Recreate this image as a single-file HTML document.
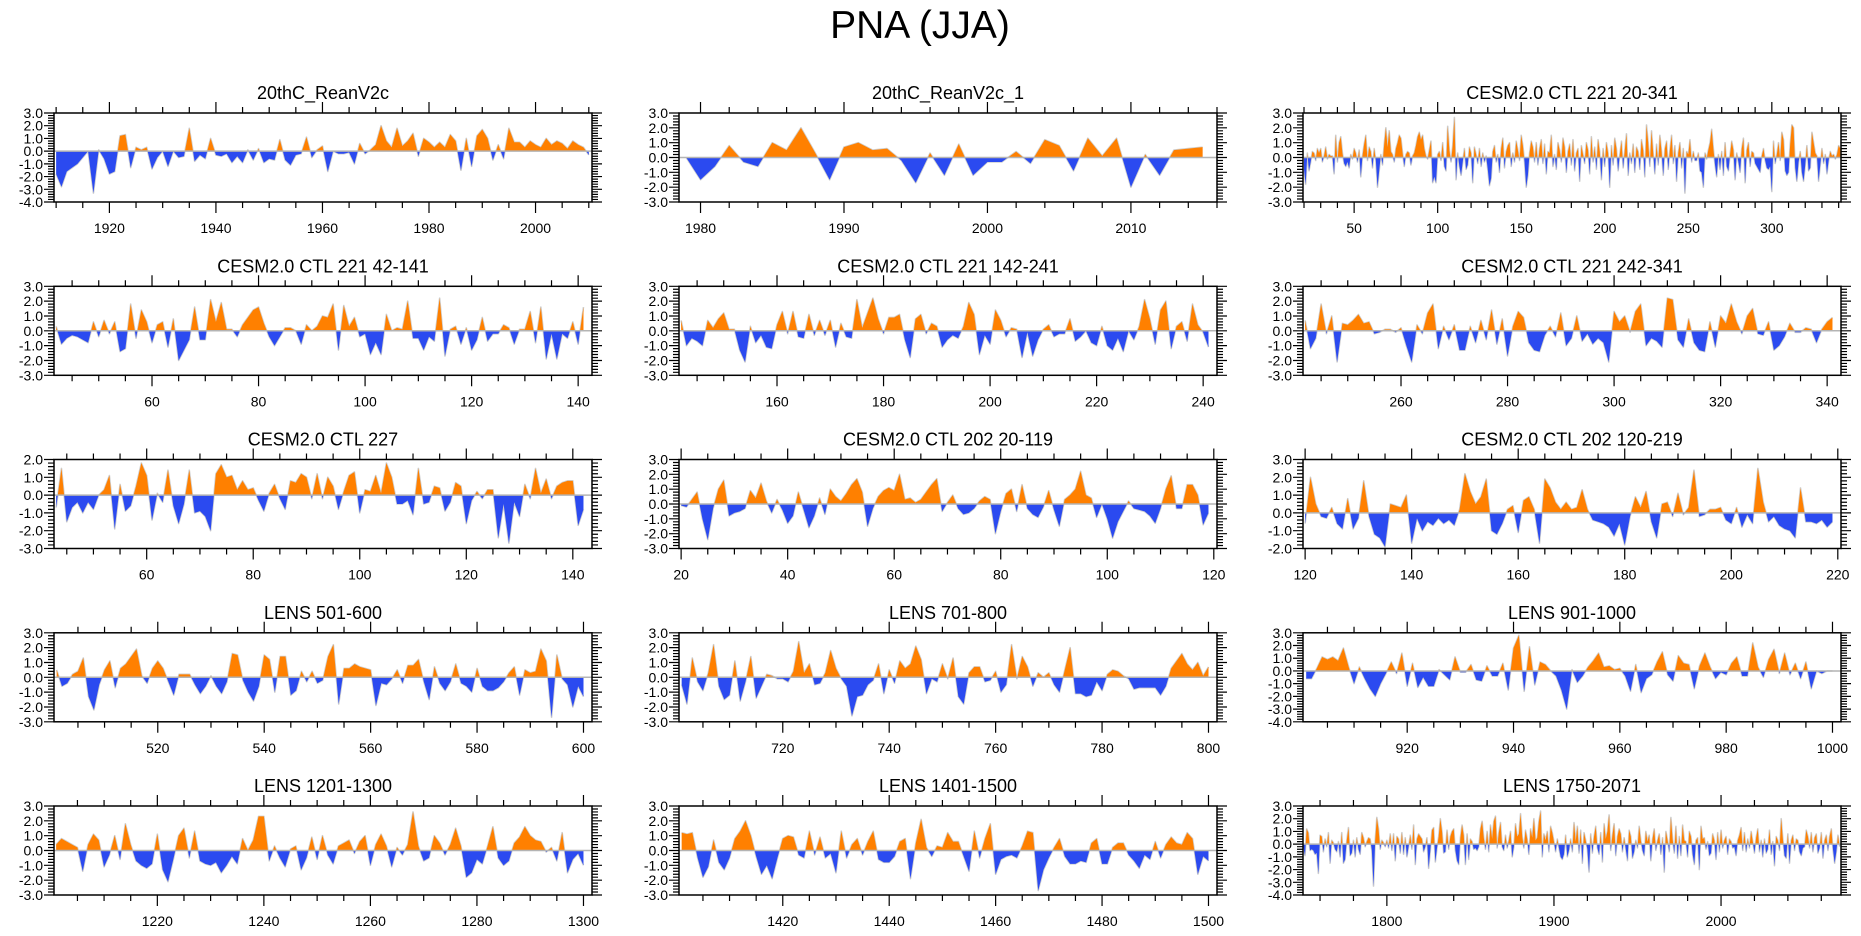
<!DOCTYPE html>
<html><head><meta charset="utf-8"><title>PNA (JJA)</title>
<style>
html,body{margin:0;padding:0;background:#fff;}
svg{display:block;font-family:"Liberation Sans",Arial,sans-serif;}
</style></head>
<body>
<svg id="chart" width="1861" height="936" viewBox="0 0 1861 936" xmlns="http://www.w3.org/2000/svg">
<text x="920" y="38" font-size="39" text-anchor="middle" fill="#000">PNA (JJA)</text>
</svg>
<script>
// ---- data ----
const titles = ["20thC_ReanV2c","20thC_ReanV2c_1","CESM2.0 CTL 221 20-341","CESM2.0 CTL 221 42-141","CESM2.0 CTL 221 142-241","CESM2.0 CTL 221 242-341","CESM2.0 CTL 227","CESM2.0 CTL 202 20-119","CESM2.0 CTL 202 120-219","LENS 501-600","LENS 701-800","LENS 901-1000","LENS 1201-1300","LENS 1401-1500","LENS 1750-2071"];
const startYears = [1910,1979,20,42,142,242,43,20,120,501,701,901,1201,1401,1750];
const xMins = [1909.6,1978.5,19.4,41.6,141.6,241.6,42.6,19.6,119.6,500.5,700.5,900.4,1200.6,1400.5,1749.8];
const xMaxs = [2010.6,2016,341.4,142.6,242.6,342.6,143.6,120.6,220.6,601.6,801.6,1001.6,1301.6,1501.6,2071.8];
const yMins = [-4,-3,-3,-3,-3,-3,-3,-3,-2,-3,-3,-4,-3,-3,-4];
const yMaxs = [3,3,3,3,3,3,2,3,3,3,3,3,3,3,3];
const majorSteps = [20,10,50,20,20,20,20,20,20,20,20,20,20,20,100];
const minorSteps = [5,2,10,5,5,5,5,5,5,5,5,5,5,5,20];

const s1 = [-1.8,-2.8,-1.6,-1.3,-1.0,-0.5,0.0,-3.3,0.1,-0.6,-1.8,-1.6,1.2,1.3,-1.3,0.3,0.1,0.3,-1.4,-0.5,0.0,-1.2,0.0,-0.5,-0.4,1.8,-0.8,-0.3,-0.6,1.0,-0.3,-0.4,-0.2,-0.9,-0.4,-0.9,0.1,-0.7,0.2,-0.9,-0.6,-0.7,0.9,-0.7,-1.1,-0.3,-0.2,1.1,-0.5,0.1,0.4,-1.6,0.0,-0.2,-0.2,-0.1,-1.0,0.6,-0.2,0.1,0.5,2.0,0.8,0.3,1.8,0.4,0.8,1.4,-0.4,1.0,0.7,0.3,0.7,0.3,1.3,0.8,-1.5,1.0,-1.2,1.2,1.7,1.0,-0.7,0.5,-0.6,1.8,0.7,0.7,0.3,0.8,0.5,0.3,1.0,0.5,0.8,0.6,0.2,0.8,0.5,0.3,-0.3];
const s2 = [0.0,-1.5,-0.6,0.8,-0.3,-0.6,1.0,0.5,2.0,0.3,-1.5,0.7,1.0,0.5,0.6,-0.2,-1.7,0.3,-1.2,0.9,-1.2,-0.3,-0.3,0.4,-0.4,1.2,0.8,-0.9,1.3,0.1,1.3,-2.0,0.2,-1.2,0.5,0.6,0.7];
const s3 = [-0.8,-1.8,0.3,-0.9,-0.3,0.4,0.3,-0.2,0.6,0.3, 0.6,-0.3,0.1,0.7,-0.1,0.2,0.1,0.1,-1.1,1.5, -0.3,1.0,1.4,0.3,-0.4,-0.6,-0.3,-0.7,0.2,-0.1, 0.6,0.3,-0.3,0.5,-1.3,0.1,0.9,1.5,-0.2,0.7, 0.4,-0.7,0.6,-0.2,-2.0,-0.9,0.2,-0.5,0.9,2.0, 0.7,1.8,0.4,0.2,-0.3,0.6,1.0,1.5,1.3,0.3, -0.6,0.2,0.4,0.3,-0.5,0.1,0.3,0.8,1.4,1.7, 1.2,1.5,0.6,0.1,-0.1,0.5,1.1,-1.7,-1.3,-1.7, 0.2,0.4,-0.2,1.0,-0.6,-0.9,2.1,0.5,-0.3,0.8, 2.7,-1.5,0.3,-0.6,-1.2,-0.3,0.6,-0.8,-0.5,0.7, 0.3,-1.7,0.7,0.2,-0.4,0.6,-0.6,0.3,-0.3,0.1, -0.8,-1.9,-1.4,0.4,0.8,-0.3,0.2,-1.0,0.6,1.3, -0.7,0.4,0.8,1.0,-0.6,0.3,-0.3,1.1,0.5,-0.2, 1.5,0.8,-0.3,-2.0,-1.2,0.3,1.1,0.7,-0.3,1.0, -0.5,0.6,1.2,-0.4,0.9,-1.1,0.4,0.3,1.5,-0.6, 0.2,-0.8,1.0,0.5,-0.3,1.3,0.7,-1.0,0.4,0.9, -0.5,1.2,-0.9,0.3,0.6,-1.6,0.8,0.2,-0.4,1.0, 0.5,-1.1,1.4,-0.3,0.7,-0.8,1.2,0.4,-1.5,0.6, -0.6,1.0,0.3,-2.0,0.8,-0.5,1.3,0.6,-0.9,0.2, 1.1,-0.7,0.5,1.6,-1.2,0.3,-0.4,0.9,-1.0,0.7, 0.4,-0.8,1.2,0.5,-1.3,2.2,1.0,-0.6,1.8,0.3, -1.1,0.9,-0.5,1.5,0.4,-1.2,0.6,1.1,-0.8,0.5, 1.5,-0.4,0.8,-1.6,0.3,1.0,-0.7,0.6,-2.4,0.4, 0.2,1.2,-0.3,0.4,-0.2,-0.2,0.3,-0.9,-1.0,-2.0, 0.3,-0.1,0.5,1.0,1.9,0.6,-0.5,-1.3,0.2,-0.8, 0.4,-1.2,1.0,-0.6,-0.9,0.2,1.1,0.5,-1.5,0.3, -0.3,-1.0,0.6,1.3,-1.7,0.5,1.0,-0.6,0.4,0.3, -0.4,-0.6,-0.8,-1.0,0.1,0.6,-0.2,-0.7,-0.8,-0.6, -2.3,1.1,-0.4,0.2,1.0,-0.2,1.7,1.2,-0.9,-1.2, -1.0,0.9,2.2,2.0,-0.7,-1.6,-0.3,0.4,-1.0,-1.6, -0.5,0.8,-0.9,-0.7,1.7,1.0,0.3,0.1,-1.6,-0.5, 0.6,-0.4,0.2,-1.1,-0.2,0.4,0.1,0.2,-0.1,0.2, 0.8,0.6];
const s4 = [0.3,-0.9,-0.5,-0.3,-0.4,-0.6,-0.8,0.6,-0.4,0.7,-0.2,0.6,-1.4,-1.2,1.8,-0.5,1.4,0.6,-0.8,0.4,0.6,-1.1,0.8,-2.0,-1.3,-0.6,1.6,-0.6,-0.6,2.1,0.6,1.9,0.1,0.1,-0.4,0.4,0.9,1.4,1.6,0.5,-0.4,-1.0,-0.4,0.2,0.2,0.0,-0.9,0.4,0.0,0.3,1.0,0.9,1.8,-1.3,1.7,0.3,0.9,-0.4,-0.2,-1.6,-0.8,-1.6,1.1,0.0,0.2,0.1,2.0,-0.5,-0.5,-1.3,-0.4,-0.7,2.2,-1.7,0.1,0.3,-0.9,0.2,-1.3,-0.6,0.9,-0.7,-0.2,-0.2,0.4,0.2,-0.9,0.1,0.1,1.3,-0.8,1.6,-1.9,-0.2,-1.9,-0.2,-0.5,0.6,-0.9,1.6];
const s5 = [0.7,-1.0,-0.5,-0.7,-1.0,0.7,0.2,0.8,1.2,0.1,0.1,-1.3,-2.1,0.3,-0.8,-0.3,-1.1,-1.2,0.4,1.3,-0.2,1.3,-0.4,-0.5,1.1,-0.3,0.7,-0.3,0.7,-1.1,0.5,-0.4,-0.5,2.1,0.2,1.2,2.2,0.8,-0.2,0.9,0.9,1.1,-0.6,-1.8,0.8,1.1,-0.2,0.5,0.3,-1.1,-0.6,-0.3,-0.5,0.3,1.9,1.1,-1.6,-0.3,-0.9,1.4,0.7,-0.4,0.2,0.1,-1.8,-0.1,-1.7,-0.6,0.1,0.4,-0.4,-0.2,-0.2,0.8,-0.7,-0.4,0.0,-0.8,-1.0,0.3,-1.0,-1.3,-0.5,-1.4,0.0,-0.6,0.3,2.1,0.8,-0.9,1.4,2.0,-1.2,0.3,0.6,-0.7,1.8,0.4,-0.1,-1.1];
const s6 = [0.7,-1.2,-0.5,1.8,-0.2,1.0,-2.1,0.5,0.4,0.7,1.1,0.5,0.6,-0.2,-0.1,0.1,0.1,-0.1,0.2,-1.0,-2.1,0.4,-0.2,1.2,1.8,-1.2,0.3,-0.6,0.4,-1.3,-1.3,0.3,-0.8,0.7,-0.6,1.4,-0.9,0.8,-1.7,0.3,1.3,0.9,-0.8,-1.3,-1.4,-0.3,0.3,-0.4,1.2,-1.0,-0.5,1.0,-0.7,-0.2,-0.9,-0.5,-0.8,-2.1,1.3,0.6,1.0,-0.1,1.3,1.8,-1.0,-0.5,-0.7,-1.1,2.2,2.1,-0.6,-1.1,0.8,-0.8,-1.3,-1.4,0.6,-1.1,1.0,0.5,1.8,0.6,-0.2,1.0,1.5,-0.2,-0.3,0.6,-1.3,-1.0,-0.4,0.5,-0.1,-0.1,0.2,0.1,-0.8,0.1,0.6,0.9];
const s7 = [-0.7,1.5,-1.5,-0.7,-0.4,-1.0,-0.4,-0.8,0.0,0.3,1.1,-1.9,0.6,-0.9,-0.6,0.5,1.8,1.1,-1.4,0.1,-0.4,1.4,-0.6,-1.6,-0.5,1.4,-1.0,-0.9,-1.2,-2.0,1.2,1.7,1.0,1.1,0.3,0.8,0.3,0.4,-0.3,-0.9,0.1,0.6,-0.2,-0.8,0.8,0.7,1.2,1.0,-0.2,1.2,-0.2,1.0,0.5,-0.8,0.2,1.1,1.3,-1.0,0.3,0.2,1.1,0.1,1.8,1.0,-0.5,-0.5,-0.3,-1.1,1.5,-0.5,-0.4,0.5,0.4,-0.9,-0.4,0.7,0.5,-1.6,-0.3,0.2,-0.2,0.3,0.3,-2.4,-0.5,-2.7,-0.4,-1.2,0.6,-0.2,1.5,0.1,0.9,-0.2,0.5,0.7,0.8,0.8,-1.7,-0.8];
const s8 = [-0.1,-0.2,0.3,0.8,-1.0,-2.4,-0.3,1.0,1.6,-0.8,-0.6,-0.5,-0.3,0.9,0.4,1.4,0.2,-0.6,0.3,-0.4,-1.3,-0.8,0.8,-0.4,-1.6,-0.8,0.4,-0.7,1.0,0.5,0.2,0.7,1.3,1.7,0.8,-1.5,-0.3,0.5,0.9,1.1,0.9,2.0,0.3,0.4,0.1,0.3,0.8,1.3,1.7,-0.5,0.1,0.6,-0.3,-0.7,-0.6,-0.3,0.2,0.5,0.3,-2.0,-0.5,0.7,1.0,-0.5,1.3,-0.3,-0.7,-0.9,-0.2,0.9,-0.4,-1.5,0.3,0.6,1.0,2.2,0.6,0.4,-0.9,0.0,-1.0,-2.3,-1.2,-0.5,0.2,-0.3,-0.4,-0.5,-0.8,-1.3,-0.3,1.0,1.9,-0.3,-0.3,1.3,1.3,0.6,-1.4,-0.6];
const s9 = [-0.6,2.0,0.5,-0.2,-0.3,0.3,-0.6,-0.9,0.8,-0.9,-0.3,1.8,-0.2,-1.2,-1.4,-1.9,0.5,0.4,0.3,1.0,-1.7,-0.3,-1.0,-0.5,-0.7,-0.3,-0.6,-0.4,-0.7,0.2,2.2,1.2,0.5,0.9,1.9,-1.0,-1.2,-0.6,0.2,0.4,-1.1,0.7,0.9,0.2,-1.7,1.9,1.4,0.6,0.2,0.6,0.2,0.3,1.3,0.2,-0.4,-0.5,-0.6,-0.8,-1.3,-0.6,-1.8,-0.2,0.9,0.3,1.2,-0.5,-1.4,0.5,0.6,-0.2,1.1,-0.1,0.3,2.4,-0.2,-0.1,0.2,0.2,0.3,-0.4,-0.6,0.3,-0.8,-0.1,-0.6,2.5,0.6,-0.5,-0.2,-0.7,-0.9,-1.0,-1.4,1.4,-0.5,-0.5,-0.6,-0.4,-0.8,-0.5];
const s10 = [0.5,-0.6,-0.4,0.2,0.4,1.3,-1.3,-2.2,-0.5,0.5,1.1,-0.7,0.6,0.9,1.4,1.9,0.1,-0.4,0.6,1.1,0.6,-0.3,-1.2,0.2,0.2,0.2,-0.5,-1.1,-0.6,0.1,-0.6,-1.1,-0.3,1.6,1.5,-0.2,-1.0,-1.6,-0.6,1.5,1.2,-1.0,1.4,1.4,-1.2,-0.9,0.4,-0.3,0.4,-0.4,-0.2,1.4,2.2,-1.8,0.6,0.6,0.9,0.7,0.6,0.5,-1.9,-0.4,-0.5,-0.1,0.5,-0.4,0.8,0.8,1.2,-0.3,-1.5,0.7,-0.4,-0.9,-0.3,0.9,-0.4,-0.6,-1.0,0.6,-0.6,-0.9,-0.9,-0.7,-0.3,0.3,0.7,-1.2,0.5,0.3,0.4,1.9,1.1,-2.7,1.5,-0.1,-0.5,-2.0,-0.6,-1.3];
const s11 = [-0.5,-1.8,1.3,-0.3,-0.9,0.3,2.2,-0.6,-1.5,-1.2,1.1,-1.6,-0.3,1.4,-1.4,-0.6,0.2,0.1,-0.1,-0.1,-0.3,0.4,2.4,0.3,0.9,-0.5,-0.4,0.3,1.8,0.6,-0.1,-0.6,-2.6,-1.3,-1.2,-0.5,-0.2,0.9,-1.1,0.5,-0.4,1.1,0.6,0.9,2.1,1.2,-1.1,-0.1,-0.3,0.9,-0.1,1.3,-1.3,-1.8,0.3,0.7,0.7,-0.3,-0.2,0.4,-1.0,-0.5,2.2,-0.1,1.4,0.7,-0.6,0.3,0.0,0.3,-0.5,-1.0,0.5,2.0,-1.1,-1.1,-1.3,-1.2,-0.3,-0.9,0.2,0.5,0.4,0.1,-0.1,-0.8,-0.7,-0.7,-0.7,-0.7,-1.2,-0.6,0.6,1.1,1.6,0.9,0.5,1.0,0.1,0.7];
const s12 = [-0.6,-0.6,0.2,1.1,0.9,1.1,0.8,1.8,0.3,-1.0,0.3,-0.6,-1.4,-2.0,-1.0,-0.2,0.7,-0.2,1.4,-1.2,0.6,-1.3,-0.5,-1.2,-1.2,0.1,-0.3,-0.7,1.1,-0.1,-0.1,0.5,-0.7,-0.8,0.4,-0.4,-0.4,0.6,-1.5,1.8,2.8,-1.6,1.9,-1.1,0.7,0.5,0.0,-0.4,-1.5,-3.0,0.1,-0.9,-0.4,0.3,0.8,1.4,0.3,0.4,0.1,0.2,-0.4,-1.6,0.5,-1.7,-0.6,-0.3,0.7,1.5,-0.3,-0.8,1.2,0.6,0.5,-1.4,0.4,1.4,0.3,-0.6,-0.1,-0.3,0.6,1.1,-0.4,-0.4,2.2,0.3,-0.5,0.9,1.7,-0.2,1.4,-0.3,0.6,-0.6,0.7,-1.4,0.0,-0.2,0.0,0.0];
const s13 = [0.4,0.8,0.6,0.4,0.2,-1.4,0.4,1.1,0.7,-1.1,-0.3,1.0,-0.6,1.8,0.4,-0.7,-1.0,-1.2,-0.9,1.1,-1.3,-2.1,-0.6,1.0,1.5,-0.5,1.3,-0.7,-0.9,-1.0,-0.8,-1.5,-1.0,-0.4,-0.9,0.8,0.0,0.7,2.3,2.3,-0.7,0.3,-0.5,-1.1,0.1,0.3,-1.3,-0.5,0.9,-0.6,1.0,-0.3,-0.9,0.3,0.5,0.7,-0.2,0.6,1.0,-1.0,0.4,1.1,0.3,-1.1,0.2,-0.3,0.4,2.6,0.3,-0.7,-0.5,1.0,0.5,-0.3,0.4,1.5,0.3,-1.8,-1.5,-0.6,-0.9,0.3,1.6,-0.5,-1.0,-0.7,0.5,0.9,1.6,1.0,0.7,0.6,-0.1,0.2,-0.7,1.2,-1.5,-0.6,-0.2,-1.0];
const s14 = [1.2,1.1,1.2,-0.5,-1.8,-1.1,0.7,-0.8,-1.3,-0.5,0.8,1.3,2.0,1.0,-0.4,-1.6,-1.0,-1.9,-0.5,0.8,1.0,0.9,-0.3,-0.5,1.3,-0.3,0.9,-0.5,-0.2,-1.5,1.3,-0.5,0.4,0.8,-0.3,0.6,1.3,-0.6,-0.8,-0.8,-0.4,0.6,0.8,-1.9,0.5,2.1,0.2,-0.4,0.3,0.2,1.2,0.6,0.6,-0.4,-1.4,1.3,-0.5,0.8,1.8,-1.6,-0.6,-0.4,-0.3,-0.5,0.3,1.3,1.2,-2.7,-1.3,-0.5,0.2,0.8,-0.4,-0.9,-0.9,-0.7,-0.8,0.5,0.8,-0.9,-0.9,0.2,0.5,0.5,-0.3,-0.7,-1.2,-0.3,-0.6,0.6,-0.5,0.4,0.9,0.5,0.4,1.2,0.8,-1.6,-0.4,-0.7];
const s15 = [-0.2,-0.9,1.2,0.9,-0.5,-0.4,-0.5,-0.8,-0.7,-2.3, 0.7,0.6,-0.6,0.4,-0.2,0.9,-1.5,0.3,0.1,-0.4, -0.6,0.2,-1.0,0.9,-1.5,-1.2,0.3,1.3,-0.9,-0.7, 0.3,-1.0,0.5,-0.4,-0.8,0.9,0.5,-0.2,0.2,0.5, 0.4,-0.5,-3.3,0.3,2.1,1.2,-0.4,0.3,0.1,-0.2, 0.3,-0.3,0.8,-0.5,0.8,-1.3,0.6,0.4,-0.7,0.9, -0.8,0.5,-1.0,-0.2,0.7,-0.4,1.5,-1.6,0.4,0.8, 0.6,0.4,-0.6,-0.2,0.5,-1.9,-0.5,1.1,1.3,-1.4, -0.3,0.6,2.0,1.0,-0.7,-0.6,1.1,-0.4,0.6,1.0, 1.2,-0.5,-1.3,-1.6,0.5,1.5,0.7,-1.6,0.8,-1.2, 0.4,0.2,-0.4,-0.3,-0.5,-0.2,1.2,1.8,0.5,-0.4, 1.0,-0.6,1.5,0.4,1.8,2.2,-0.3,0.9,1.7,-0.2, -0.5,0.7,-0.3,0.3,1.0,-1.0,-0.2,1.6,0.6,0.8, 2.4,0.6,-0.3,1.1,0.4,-0.8,1.2,0.5,2.0,0.3, 0.5,1.8,2.6,-1.0,0.8,0.3,1.0,-0.6,1.4,0.9, 0.2,-0.6,0.4,-0.3,-1.0,-1.2,-0.8,0.7,-1.0,-0.5, 0.4,-0.6,1.7,0.2,1.4,-0.7,1.1,-1.5,0.9,0.3, -0.4,-2.2,0.8,-0.7,0.6,1.4,-0.3,-0.8,0.9,-1.4, 1.6,0.4,1.0,2.3,-0.5,0.7,1.6,-0.9,0.6,1.2, 0.8,-0.6,0.5,-0.4,-1.3,1.1,0.6,-1.1,-0.6,0.3, -0.3,1.4,0.3,-0.5,-0.9,1.0,0.2,0.7,-1.3,0.4, 1.2,-0.5,0.3,0.8,-0.8,0.5,-2.2,1.0,0.3,-0.6, 2.1,0.4,-0.7,1.4,-1.1,0.6,-0.9,1.5,0.3,0.2, -1.0,1.0,0.6,-0.8,-1.6,0.3,0.5,-2.0,1.4,0.4, 0.5,-0.4,0.2,-0.9,-0.7,0.8,0.3,-1.2,0.9,-0.6, 1.1,-0.3,0.3,0.6,-0.8,0.4,0.2,-0.3,-0.2,-0.9, 0.3,0.7,1.3,-0.5,0.9,-0.6,0.4,-0.3,1.0,0.2, -0.7,0.5,1.2,-0.6,0.3,-1.0,0.4,-0.7,-0.4,1.1, -0.8,0.2,-1.7,0.6,0.3,-0.5,2.0,0.4,-0.9,-1.1, 0.8,-1.5,0.3,0.7,-0.5,0.4,0.3,-0.6,-0.9,-0.3, -0.2,1.1,0.6,-0.3,0.9,-0.6,0.5,0.8,-0.7,-0.3, 0.9,-1.1,0.3,0.7,-0.5,0.6,1.2,-0.4,-1.5,-0.6, 0.7,-0.2];
const seriesList = [s1,s2,s3,s4,s5,s6,s7,s8,s9,s10,s11,s12,s13,s14,s15];

// ---- layout ----
const NS = "http://www.w3.org/2000/svg";
const svg = document.getElementById('chart');
const colLefts = [54, 679, 1303];
const rowTops = [113, 286.3, 459.5, 632.8, 806];
const PW = 538, PH = 89;
function mk(tag, attrs, parent) {
  const e = document.createElementNS(NS, tag);
  for (const k in attrs) e.setAttribute(k, attrs[k]);
  (parent || svg).appendChild(e);
  return e;
}
function fmtY(v){ return v.toFixed(1); }

seriesList.forEach((data, p) => {
  const L = colLefts[p % 3], T = rowTops[Math.floor(p / 3)];
  const R = L + PW, B = T + PH;
  const xmin = xMins[p], xmax = xMaxs[p], ymin = yMins[p], ymax = yMaxs[p];
  const xs = v => L + (v - xmin) / (xmax - xmin) * PW;
  const ys = v => T + (ymax - v) / (ymax - ymin) * PH;
  const g = mk('g', {});
  
  

  const t = mk('text', {x: L + PW / 2, y: T - 14, 'font-size': 18, 'text-anchor': 'middle', fill: '#000'}, g);
  t.textContent = titles[p];
  
  

  // clip paths
  const id = 'c' + p;
  const defs = mk('defs', {}, g);
  const cpA = mk('clipPath', {id: id + 'a'}, defs);
  mk('rect', {x: L, y: T, width: PW, height: ys(0) - T}, cpA);
  const cpB = mk('clipPath', {id: id + 'b'}, defs);
  mk('rect', {x: L, y: ys(0), width: PW, height: B - ys(0)}, cpB);

  let pts = data.map((v, i) => [xs(startYears[p] + i), ys(v)]);
  const line = pts.map((q, i) => (i ? 'L' : 'M') + q[0].toFixed(2) + ' ' + q[1].toFixed(2)).join(' ');
  const area = line + ' L' + pts[pts.length - 1][0].toFixed(2) + ' ' + ys(0) + ' L' + pts[0][0].toFixed(2) + ' ' + ys(0) + ' Z';

  const ln = mk('path', {d: line, fill: 'none', stroke: '#cfcfcf', 'stroke-width': 1.6, 'stroke-linejoin': 'round'}, g);
  
  
  const pos = mk('path', {d: area, fill: '#ff8000', 'clip-path': 'url(#' + id + 'a)'}, g);
  
  
  const neg = mk('path', {d: area, fill: '#2b4af0', 'clip-path': 'url(#' + id + 'b)'}, g);
  
  
  const zl = mk('line', {x1: L, x2: R, y1: ys(0), y2: ys(0), stroke: '#b4b4b4', 'stroke-width': 1.5}, g);
  
  

  const box = mk('rect', {x: L, y: T, width: PW, height: PH, fill: 'none', stroke: '#000', 'stroke-width': 1.5}, g);
  
  

  // ticks
  let td = '';
  const ms = minorSteps[p], MS = majorSteps[p];
  for (let v = Math.ceil(xmin / ms) * ms; v <= xmax + 1e-9; v += ms) {
    const x = xs(v).toFixed(2);
    const isMaj = Math.abs(v / MS - Math.round(v / MS)) < 1e-6;
    const len = isMaj ? 11 : 6;
    td += `M${x} ${B}V${B + len}M${x} ${T}V${T - len}`;
    if (isMaj) {
      const xl = mk('text', {x: x, y: B + 31, 'font-size': 14, 'text-anchor': 'middle', fill: '#000'}, g);
      xl.textContent = String(v);
      
      
    }
  }
  for (let k = Math.round(ymin * 5); k <= Math.round(ymax * 5); k++) {
    const v = k / 5, y = ys(v).toFixed(2);
    const isMaj = k % 5 === 0;
    const len = isMaj ? 10 : 6;
    td += `M${L} ${y}H${L - len}M${R} ${y}H${R + len}`;
    if (isMaj) {
      const yl = mk('text', {x: L - 11, y: +y + 5, 'font-size': 14, 'text-anchor': 'end', fill: '#000'}, g);
      yl.textContent = fmtY(v);
      
      
    }
  }
  const tk = mk('path', {d: td, stroke: '#000', 'stroke-width': 1.2, fill: 'none'}, g);
  
  
});
</script>
</body></html>
